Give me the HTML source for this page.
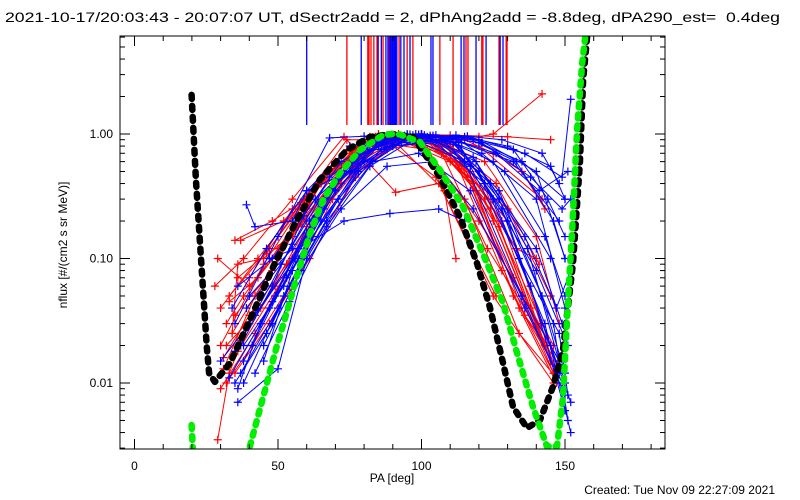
<!DOCTYPE html>
<html><head><meta charset="utf-8"><style>
html,body{margin:0;padding:0;background:#fff;}
svg{display:block;font-family:"Liberation Sans",sans-serif;}
</style></head><body>
<svg id="chart" width="800" height="500" viewBox="0 0 800 500" xmlns="http://www.w3.org/2000/svg">
<rect x="0" y="0" width="800" height="500" fill="#fff"/>
<text x="5" y="22" font-size="14" fill="#000" textLength="775" lengthAdjust="spacingAndGlyphs" style="white-space:pre">2021-10-17/20:03:43 - 20:07:07 UT, dSectr2add = 2, dPhAng2add = -8.8deg, dPA290_est=  0.4deg</text>
<g id="plot"></g>
<g id="axes"></g>
<text transform="translate(67,245) rotate(-90)" text-anchor="middle" font-size="12" fill="#000">nflux [#/(cm2 s sr MeV)]</text>
<text x="392" y="482" text-anchor="middle" font-size="12" fill="#000">PA [deg]</text>
<text x="775" y="494" text-anchor="end" font-size="12" fill="#000">Created: Tue Nov 09 22:27:09 2021</text>
</svg>
<script>
const xTicks=[0,50,100,150];
const yTicks=[0.01,0.1,1];
const yTickLabels=["0.01","0.10","1.00"];
const redLinePA=[74,81.3,81.7,82.4,83.4,84.5,86.6,88.7,92.2,95,97,106.4,111,115.5,116.2,121,121.4,127,129.5,129.8];
const blueLinePA=[60,79,84.9,86,87.6,88.3,89,89.3,89.7,90,90.4,90.7,91,91.4,92.8,93.9,96,103.3,104,113.8,114.8,119,122.5,127.4,128.4];
const blackPA=[19.9,21.4,23.2,25.2,26,28,33.3,41.3,48.3,56.6,64.6,74,82,89.7,97,99.5,106.4,113.4,119.3,123.8,128.4,131.9,136.8,141.3,145.8,149.3,152.8,155.2,156.3,157.7];
const blackVal=[2.06,0.43,0.097,0.0195,0.012,0.0102,0.0145,0.0365,0.0855,0.204,0.43,0.744,0.946,1.0,0.946,0.787,0.451,0.215,0.092,0.0408,0.0145,0.0064,0.00435,0.00505,0.0093,0.0184,0.092,0.585,2.71,6.0];
const greenPA1=[19.9,20.3];
const greenVal1=[0.0046,0.003];
const greenPA=[40.2,44.8,49.5,53,56.5,61.1,65.7,71.6,78.6,86.6,90,92.5,99.5,106.4,114.5,122.8,128.4,133.3,138.9,143.7,147.2,149.3,151.1,152.5,154.2,156,157];
const greenVal=[0.0031,0.0077,0.0195,0.0365,0.071,0.158,0.295,0.486,0.744,0.98,1.0,0.99,0.86,0.514,0.26,0.092,0.044,0.0174,0.0064,0.0031,0.0031,0.0077,0.049,0.17,1.08,3.72,5.9];
const redPA=[
[31,42,58,75,90,105,122,143],[30,45,60,78,92,108,125,145],[33,47,62,80,95,112,128,146],[29,40,55,72,88,104,120,140],
[35,48,65,84,100,118,132,147],[32,44,60,76,91,107,123,144],[37,52,70,85,110,130,145],[30,43,58,74,90,108,112],
[29,33,45,60,76,92,110,130,147],[34,50,66,82,98,115,134,147],[28,38,55,73,91,106,126],[36,52,68,86,102,120,138,148],
[35,48,60,74,88,100,120,142],[95,115,125,135,143],[100,120,125,142],[92,110,130,145],[40,55,70,90,105,125,146],[30,42,57,72,88,104,122,140,148],
[32,38,50,65,80,95,110,128,145],[34,36,45,60,78,96,114,132,146],[31,40,53,68,84,100,116,134,147],[33,43,57,71,86,103,119,136,148],
[35,47,61,77,93,109,126,141],[37,49,63,79,94,111,127,143],[36,46,59,74,89,106,124,142,146],[32,41,54,69,85,101,117,133,140]];
const redVal=[
[0.013,0.05,0.2,0.6,0.95,0.9,0.3,0.02],[0.02,0.09,0.3,0.8,1.0,0.85,0.2,0.015],[0.05,0.12,0.35,0.9,0.98,0.6,0.08,0.012],[0.1,0.06,0.15,0.5,0.9,0.95,0.5,0.03],
[0.035,0.08,0.4,0.95,1.0,0.4,0.05,0.013],[0.02,0.04,0.18,0.55,0.9,0.7,0.12,0.02],[0.14,0.2,0.6,1.0,0.98,0.95,0.9],[0.04,0.1,0.28,0.9,0.9,0.35,0.1],
[0.0035,0.012,0.06,0.25,0.7,0.95,0.7,0.2,0.012],[0.025,0.1,0.45,0.95,0.96,0.3,0.025,0.011],[0.06,0.1,0.3,0.95,0.34,0.4,0.05],[0.018,0.07,0.35,0.85,0.75,0.2,0.04,0.015],
[0.14,0.2,0.3,0.6,0.95,0.98,0.8,0.3],[0.98,0.9,0.7,0.5,0.25],[1.0,0.95,1.0,2.1],[0.9,0.6,0.25,0.05],[0.07,0.25,0.55,0.8,0.45,0.05,0.01],[0.009,0.025,0.12,0.4,0.75,0.9,0.6,0.15,0.03],
[0.03,0.05,0.12,0.4,0.85,0.97,0.8,0.2,0.015],[0.025,0.09,0.1,0.2,0.7,0.92,0.55,0.07,0.012],[0.016,0.035,0.09,0.3,0.8,0.95,0.45,0.04,0.01],[0.045,0.07,0.18,0.45,0.9,0.9,0.35,0.035,0.014],
[0.012,0.03,0.1,0.45,0.93,0.85,0.4,0.09],[0.022,0.06,0.22,0.7,0.96,0.75,0.18,0.02],[0.07,0.11,0.3,0.75,0.97,0.8,0.25,0.03,0.02],[0.01,0.02,0.06,0.3,0.85,0.93,0.5,0.12,0.1]];
const bluePA=[
[37,50,65,80,95,112,130,148],[36,50,60,78,95,115,135,150],[39,42,55,60,75,90,108,125,145],[45,55,70,86,103,120,138,150],
[35,48,62,78,93,110,127,146,151],[47,60,73,89,106,115],[34,46,60,75,90,105,120,135,150],[38,52,66,82,97,113,128,145,152],
[35,50,68,80,100,120,140,150],[40,55,70,88,105,122,140,151],[36,48,63,80,96,114,132,148],[42,56,72,88,104,121,140,150],
[38,52,67,83,99,117,136,149],[45,58,72,88,104,118,135,148],[100,118,136,149,152],[95,115,130,145,150],[30,40,55,70,86,100,118,137,150],[48,62,77,92,108,125,143,152],
[36,44,57,70,85,100,117,134,148,151],[38,49,61,76,92,107,124,140,149],[41,53,66,80,96,111,127,142,150],[33,47,60,73,88,102,119,136,147,152],
[44,57,69,83,98,113,129,143,150],[39,51,64,79,94,110,126,141,151],[46,58,71,86,101,116,132,144,150],[37,48,59,72,87,103,121,138,149,152],
[42,54,67,82,97,112,128,142,148],[35,43,55,68,84,99,116,133,146,150]];
const blueVal=[
[0.012,0.04,0.2,0.6,1.0,0.9,0.2,0.012],[0.007,0.013,0.1,0.5,0.95,0.6,0.05,0.008],[0.27,0.18,0.2,0.35,0.5,0.8,0.9,0.6,0.1],[0.015,0.08,0.35,0.9,0.95,0.5,0.06,0.006],
[0.01,0.03,0.15,0.5,0.85,0.9,0.35,0.03,0.005],[0.1,0.13,0.2,0.23,0.25,0.2],[0.04,0.12,0.35,0.8,0.95,0.98,0.85,0.6,0.3],[0.02,0.06,0.25,0.75,0.98,0.8,0.25,0.02,0.007],
[0.03,0.15,0.93,0.96,1.0,0.9,0.5,0.1],[0.05,0.12,0.4,0.8,0.85,0.4,0.08,0.02],[0.06,0.1,0.3,0.7,0.9,0.85,0.6,0.2],[0.035,0.1,0.45,0.98,0.97,0.7,0.3,0.04],
[0.01,0.05,0.2,0.6,0.7,0.35,0.04,0.01],[0.02,0.08,0.25,0.55,0.6,0.25,0.05,0.015],[1.0,0.9,0.7,0.45,1.9],[0.98,0.95,0.8,0.55,0.3],[0.015,0.03,0.1,0.4,0.85,0.97,0.65,0.12,0.01],[0.045,0.15,0.5,0.9,0.88,0.3,0.03,0.004],
[0.009,0.03,0.1,0.35,0.8,0.95,0.55,0.1,0.025,0.008],[0.015,0.05,0.2,0.65,0.95,0.9,0.4,0.12,0.03],[0.02,0.07,0.3,0.8,0.99,0.85,0.3,0.05,0.012],[0.011,0.04,0.16,0.5,0.92,0.95,0.6,0.15,0.04,0.08],
[0.03,0.12,0.4,0.85,1.0,0.9,0.5,0.15,0.05],[0.04,0.09,0.28,0.7,0.97,0.92,0.7,0.35,0.5],[0.025,0.09,0.3,0.75,0.98,0.96,0.75,0.3,0.15],[0.02,0.06,0.22,0.6,0.9,0.97,0.85,0.45,0.25,0.3],
[0.012,0.045,0.18,0.55,0.9,0.98,0.9,0.7,0.4],[0.018,0.04,0.13,0.45,0.88,0.99,0.93,0.6,0.2,0.1]];

const NS="http://www.w3.org/2000/svg";
const L=120,R=665,T=36,B=449;
function xs(d){return 134.5+2.87*d;}
function ys(v){return 134-124.5*Math.log10(v);}
function mk(tag,attrs,parent){const e=document.createElementNS(NS,tag);for(const k in attrs)e.setAttribute(k,attrs[k]);parent.appendChild(e);return e;}
const plot=document.getElementById('plot');
const axes=document.getElementById('axes');
const defs=mk('defs',{},plot);
const cp=mk('clipPath',{id:'clip'},defs);
mk('rect',{x:L,y:T,width:R-L,height:B-T},cp);
const g=mk('g',{'clip-path':'url(#clip)'},plot);

redLinePA.forEach(d=>{const e=mk('line',{x1:xs(d),x2:xs(d),y1:T,y2:125,stroke:'#ff0000','stroke-width':1.3},g);

});
blueLinePA.forEach(d=>{const e=mk('line',{x1:xs(d),x2:xs(d),y1:T,y2:125,stroke:'#0000ff','stroke-width':1.3},g);

});

function series(pas,vals,color,name){
  pas.forEach((pa,i)=>{
    const pts=pa.map((d,j)=>xs(d).toFixed(1)+','+ys(vals[i][j]).toFixed(1)).join(' ');
    const pl=mk('polyline',{points:pts,fill:'none',stroke:color,'stroke-width':1},g);
    
    
    pa.forEach((d,j)=>{const x=xs(d),y=ys(vals[i][j]);
      const p=mk('path',{d:`M${x-4},${y}H${x+4}M${x},${y-4}V${y+4}`,stroke:color,'stroke-width':1.2},g);
      
      });
  });
}
series(redPA,redVal,'#ff0000','red-series');
series(bluePA,blueVal,'#0000ff','blue-series');

function curve(pa,val,color,name){
  const pts=pa.map((d,j)=>xs(d).toFixed(1)+','+ys(val[j]).toFixed(1)).join(' ');
  const e=mk('polyline',{points:pts,fill:'none',stroke:color,'stroke-width':6.5,'stroke-linecap':'round','stroke-linejoin':'round','stroke-dasharray':'4 7'},g);
  
  
}
curve(blackPA,blackVal,'#000000','black-model-curve');
curve(greenPA1,greenVal1,'#00ee00','green-model-curve-left');
curve(greenPA,greenVal,'#00ee00','green-model-curve');

const fr=mk('rect',{x:L,y:T,width:R-L,height:B-T,fill:'none',stroke:'#000','stroke-width':1},axes);


for(let d=0;d<=180;d+=10){const x=xs(d),maj=d%50===0;
  mk('line',{x1:x,x2:x,y1:B,y2:B-(maj?10:5),stroke:'#000'},axes);
  mk('line',{x1:x,x2:x,y1:T,y2:T+(maj?10:5),stroke:'#000'},axes);}
xTicks.forEach(d=>{const t=mk('text',{x:xs(d),y:470,'text-anchor':'middle','font-size':12},axes);t.textContent=String(d);

});
for(let e=-3;e<=0;e++){for(let m=1;m<=9;m++){const v=m*Math.pow(10,e);const y=ys(v);if(y<T||y>B)continue;const len=m===1?10:5;
  mk('line',{x1:L,x2:L+len,y1:y,y2:y,stroke:'#000'},axes);
  mk('line',{x1:R,x2:R-len,y1:y,y2:y,stroke:'#000'},axes);}}
yTicks.forEach((v,i)=>{const t=mk('text',{x:113,y:ys(v)+4,'text-anchor':'end','font-size':12},axes);t.textContent=yTickLabels[i];

});
</script>
</body></html>
